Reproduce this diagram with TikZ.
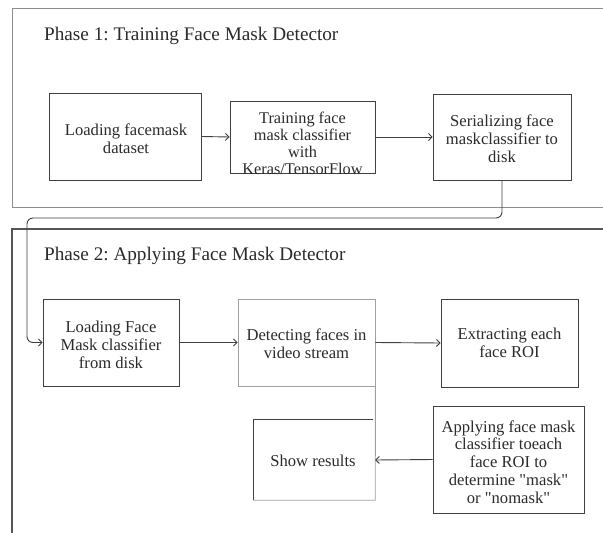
\documentclass[tikz,border=0pt]{standalone}
\usepackage{fontspec}
\setmainfont{Liberation Serif}
\newfontfamily\qfont{Liberation Serif}[Ligatures=TeXOff]
\frenchspacing
\usetikzlibrary{arrows.meta,calc}
\definecolor{txt}{HTML}{2B2B2B}
\definecolor{linec}{HTML}{404040}
\definecolor{lightc}{HTML}{A0A0A0}
\definecolor{frameone}{HTML}{8C8C8C}
\definecolor{frametwo}{HTML}{555555}
\newcommand{\dq}{{\qfont"}}
\tikzset{
  boxnode/.style={draw=linec, line width=0.9pt, inner sep=0pt},
  lightbox/.style={draw=lightc, line width=0.9pt, inner sep=0pt},
  plain/.style={inner sep=0pt},
  boxtext/.style={inner sep=0pt, align=center, text=txt, font=\fontsize{16.6}{18}\selectfont},
  titletext/.style={inner sep=0pt, anchor=west, text=txt, font=\fontsize{19.2}{22}\selectfont},
  flow/.style={draw=linec, line width=0.9pt, -{Straight Barb[length=3.5pt,width=7pt]}},
}
\begin{document}
\begin{tikzpicture}[x=1pt,y=-1pt]
\useasboundingbox (0,0) rectangle (603,533);
\clip (0,0) rectangle (603,533);
\fill[white] (0,0) rectangle (603,533);

% frames
\draw[frameone, line width=0.9pt] (640,8) -- (12,8) -- (12,207.5) -- (640,207.5);
\draw[frametwo, line width=1.2pt] (640,229) -- (12,229) -- (12,560);

% titles
\node[titletext] (title1) at (44,36) {Phase 1: Training Face Mask Detector};
\node[titletext] (title2) at (44,256) {Phase 2: Applying Face Mask Detector};

% phase 1 boxes
\node[boxnode, minimum width=152pt, minimum height=87pt] (B1) at (125,136.5) {};
\node[boxtext] (T1) at (126,138.5) {Loading facemask\\dataset};
\node[boxnode, minimum width=145pt, minimum height=72pt] (B2) at (302.5,137) {};
\node[boxtext, font=\fontsize{16.3}{16.8}\selectfont] (T2) at (302.5,143.5) {Training face\\mask classifier\\with\\Keras/TensorFlow};
\node[boxnode, minimum width=138pt, minimum height=86pt] (B3) at (502,137) {};
\node[boxtext] (T3) at (502,138.5) {Serializing face\\maskclassifier to\\disk};

% phase 2 boxes
\node[boxnode, minimum width=136pt, minimum height=87pt] (B4) at (111,342.5) {};
\node[boxtext] (T4) at (111,345) {Loading Face\\Mask classifier\\from disk};
\node[lightbox, minimum width=137pt, minimum height=87pt] (B5) at (306.5,342.5) {};
\node[boxtext] (T5) at (306.5,343.5) {Detecting faces in\\video stream};
\node[boxnode, minimum width=137pt, minimum height=88pt] (B6) at (509.5,343) {};
\node[boxtext] (T6) at (509.5,343) {Extracting each\\face ROI};
\node[plain, minimum width=121pt, minimum height=80pt] (SR) at (314.5,460) {};
\node[boxtext] (T7) at (313,461) {Show results};
\node[boxnode, minimum width=151pt, minimum height=107pt] (B7) at (508.5,459.5) {};
\node[boxtext, font=\fontsize{16.6}{17.8}\selectfont] (T8) at (508.5,462) {Applying face mask\\classifier toeach\\face ROI to\\determine \dq mask\dq\\or \dq nomask\dq};

% show results box edges
\draw[linec, line width=0.9pt] (SR.south west) -- (SR.north west) -- ($(SR.north east)+(-2,0)$);
\draw[lightc, line width=0.9pt] (B5.south east) -- (SR.south east) -- ($(SR.south west)+(-1,0)$);

% connectors
\draw[flow] (B1.east) -- (B2.west);
\draw[flow] (B2.east) -- (B3.west);
\coordinate (c1) at (502,218);
\coordinate (c2) at (27,218);
\coordinate (c3) at (27,342.5);
\draw[flow, rounded corners=6pt] (B3.south) -- (c1) -- (c2) -- (c3) -- (B4.west);
\draw[flow] (B4.east) -- (B5.west);
\draw[flow] (B5.east) -- (B6.west);
\draw[flow] (B7.west) -- (SR.east);
\end{tikzpicture}
\end{document}
